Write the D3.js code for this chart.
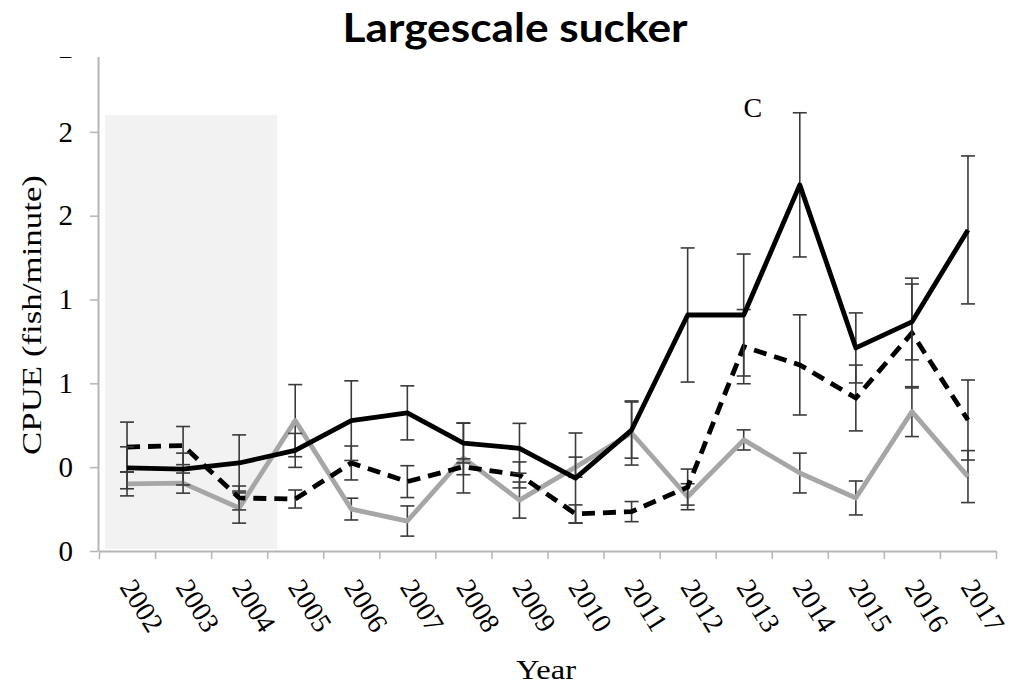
<!DOCTYPE html>
<html>
<head>
<meta charset="utf-8">
<script src="https://cdn.jsdelivr.net/npm/d3@7"></script>
<style>
  body { margin: 0; background: #fff; }
  svg { display: block; }
</style>
</head>
<body>
<div id="chart"></div>
<script>
// years on the x axis
let years = ['2002','2003','2004','2005','2006','2007','2008','2009',
             '2010','2011','2012','2013','2014','2015','2016','2017'];

// CPUE values
let solidVals  = [0.397,0.391,0.420,0.480,0.622,0.659,0.515,0.490,0.348,0.577,1.126,1.126,1.747,0.969,1.093,1.532];
let solidErr   = [0.100,0.076,0.134,0.081,0.190,0.129,0.095,0.119,0.215,0.134,0.320,0.291,0.344,0.167,0.181,0.353];
let dashedVals = [0.496,0.503,0.253,0.248,0.420,0.331,0.402,0.363,0.177,0.188,0.305,0.975,0.888,0.730,1.040,0.625];
let dashedErr  = [0.119,0.091,0.057,0.043,0.081,0.076,0.038,0.062,0.043,0.048,0.086,0.177,0.239,0.157,0.262,0.191];
let grayVals   = [0.320,0.324,0.205,0.622,0.200,0.143,0.444,0.243,0.400,0.563,0.259,0.530,0.372,0.253,0.665,0.355];
let grayErr    = [0.057,0.048,0.072,0.172,0.052,0.072,0.167,0.086,0.048,0.153,0.062,0.048,0.095,0.081,0.119,0.124];

// y ticks (labels are rounded to whole numbers in the original)
let yTicks = [0, 0.4, 0.8, 1.2, 1.6, 2.0, 2.4];
let yTickLabels = ['0','0','1','1','2','2','2'];

// shaded period
let shadeYears = ['2002','2004'];
let shadeTop = 2.08;

let svg = d3.select('#chart')
  .append('svg')
    .attr('width', 1012)
    .attr('height', 684)
;

let x = d3.scaleBand().domain(years).range([99, 996]).padding(0);
let xEdge = d3.scaleLinear().domain([0, years.length]).range([99, 996]);
let y = d3.scaleLinear().domain([0, 2.4]).range([551, 48]);

function cx(d, i) {
  return x(years[i]) + x.bandwidth() / 2;
}

// shaded box
svg.append('rect')
    .attr('x', x(shadeYears[0]) + 6)
    .attr('y', y(shadeTop))
    .attr('width', x(shadeYears[1]) + x.bandwidth() + 10 - (x(shadeYears[0]) + 6))
    .attr('height', y(0) - 2 - y(shadeTop))
    .attr('fill', '#f2f2f2')
;

// y axis
let yAxis = svg.append('g')
    .attr('transform', 'translate(98,0)')
    .call(d3.axisLeft(y).tickValues(yTicks)
      .tickFormat(function(d, i){ return yTickLabels[i]; })
      .tickSize(8).tickSizeOuter(0))
;
yAxis.select('.domain').attr('stroke', '#b5b5b5').attr('stroke-width', 2);
yAxis.selectAll('.tick line').attr('stroke', '#b5b5b5').attr('stroke-width', 1.5);
yAxis.selectAll('.tick text')
    .attr('x', -25)
    .attr('font-family', 'Liberation Serif')
    .attr('font-size', 29)
    .attr('fill', '#000')
;

// x axis (ticks between categories)
let xAxis = svg.append('g')
    .attr('transform', 'translate(0,551)')
    .call(d3.axisBottom(xEdge).tickValues(d3.range(years.length + 1))
      .tickFormat('').tickSize(8).tickSizeOuter(0))
;
xAxis.select('.domain').attr('stroke', '#b5b5b5').attr('stroke-width', 2);
xAxis.selectAll('.tick line').attr('stroke', '#b5b5b5').attr('stroke-width', 1.5);

svg.selectAll('.yearlabel').data(years).enter()
  .append('text')
    .attr('class', 'yearlabel')
    .attr('transform', function(d){
      return 'translate(' + (x(d) + x.bandwidth() / 2 - 8) + ',587) rotate(58)';
    })
    .attr('font-family', 'Liberation Serif')
    .attr('font-size', 28)
    .text(function(d){ return d; })
;

// error bars
function errorBars(vals, errs, cls) {
  let g = svg.selectAll('.' + cls).data(vals).enter()
    .append('g')
      .attr('class', cls)
      .attr('stroke', '#3a3a3a')
      .attr('stroke-width', 1.6)
  ;
  g.append('line')
      .attr('x1', cx).attr('x2', cx)
      .attr('y1', function(d, i){ return y(d + errs[i]); })
      .attr('y2', function(d, i){ return y(d - errs[i]); })
  ;
  g.append('line')
      .attr('x1', function(d, i){ return cx(d, i) - 7; })
      .attr('x2', function(d, i){ return cx(d, i) + 7; })
      .attr('y1', function(d, i){ return y(d + errs[i]); })
      .attr('y2', function(d, i){ return y(d + errs[i]); })
  ;
  g.append('line')
      .attr('x1', function(d, i){ return cx(d, i) - 7; })
      .attr('x2', function(d, i){ return cx(d, i) + 7; })
      .attr('y1', function(d, i){ return y(d - errs[i]); })
      .attr('y2', function(d, i){ return y(d - errs[i]); })
  ;
}

let line = d3.line()
  .x(cx)
  .y(function(d){ return y(d); })
;

errorBars(grayVals, grayErr, 'grayerr');
svg.append('path')
    .attr('d', line(grayVals))
    .attr('fill', 'none')
    .attr('stroke', '#a6a6a6')
    .attr('stroke-width', 4.8)
    .attr('stroke-linejoin', 'round')
;

errorBars(dashedVals, dashedErr, 'dasherr');
svg.append('path')
    .attr('d', line(dashedVals))
    .attr('fill', 'none')
    .attr('stroke', '#000')
    .attr('stroke-width', 4.8)
    .attr('stroke-dasharray', '13,8')
;

errorBars(solidVals, solidErr, 'solierr');
svg.append('path')
    .attr('d', line(solidVals))
    .attr('fill', 'none')
    .attr('stroke', '#000')
    .attr('stroke-width', 4.8)
    .attr('stroke-linejoin', 'round')
;

// panel letter
svg.append('text')
    .attr('x', x('2013') + x.bandwidth() / 2 + 9)
    .attr('y', 117)
    .attr('text-anchor', 'middle')
    .attr('font-family', 'Liberation Serif')
    .attr('font-size', 28)
    .text('C')
;

// axis titles
svg.append('text')
    .attr('transform', 'translate(41,315) rotate(-90)')
    .attr('text-anchor', 'middle')
    .attr('font-family', 'Liberation Serif')
    .attr('font-size', 27)
    .attr('textLength', 280)
    .attr('lengthAdjust', 'spacingAndGlyphs')
    .text('CPUE (fish/minute)')
;

svg.append('text')
    .attr('x', 546)
    .attr('y', 679)
    .attr('text-anchor', 'middle')
    .attr('font-family', 'Liberation Serif')
    .attr('font-size', 28)
    .attr('textLength', 60)
    .attr('lengthAdjust', 'spacingAndGlyphs')
    .text('Year')
;

// title band pasted over the top of the plot
svg.append('rect')
    .attr('x', 0).attr('y', 0)
    .attr('width', 1012).attr('height', 57)
    .attr('fill', '#fff')
;
svg.append('text')
    .attr('x', 515)
    .attr('y', 42)
    .attr('text-anchor', 'middle')
    .attr('font-family', 'Lato')
    .attr('font-weight', 'bold')
    .attr('font-size', 40)
    .attr('textLength', 345)
    .attr('lengthAdjust', 'spacingAndGlyphs')
    .text('Largescale sucker')
;
</script>
</body>
</html>
